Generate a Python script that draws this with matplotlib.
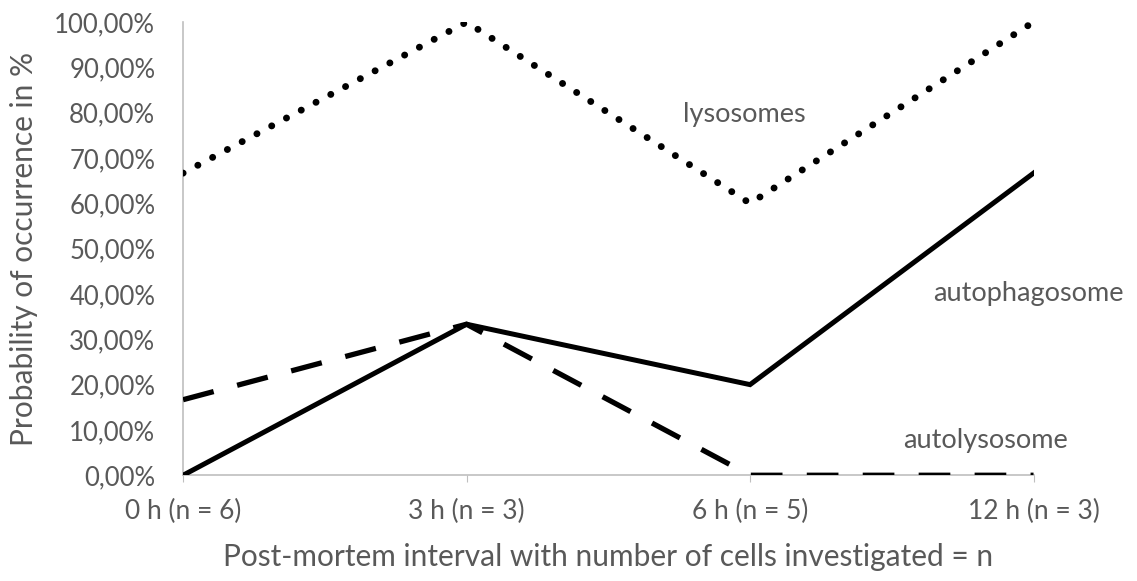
import matplotlib
matplotlib.use("Agg")
import matplotlib.pyplot as plt
from matplotlib.ticker import FuncFormatter, MultipleLocator

categories = ["0 h (n = 6)", "3 h (n = 3)", "6 h (n = 5)", "12 h (n = 3)"]
lysosomes = [66.67, 100.0, 60.0, 100.0]
autophagosome = [0.0, 33.33, 20.0, 66.67]
autolysosome = [16.67, 33.33, 0.0, 0.0]

plt.rcParams["font.family"] = ["Lato", "DejaVu Sans"]
text_grey = "#595959"
axis_grey = "#bfbfbf"

fig = plt.figure(figsize=(11.37, 5.81), dpi=100)
ax = fig.add_axes([0.161, 0.182, 0.748, 0.780])

x = list(range(len(categories)))
ax.plot(x, lysosomes, color="black", lw=5, linestyle=(0, (0.01, 2.4)),
        dash_capstyle="round", solid_capstyle="round", zorder=3)
ax.plot(x, autophagosome, color="black", lw=3.6, solid_joinstyle="miter", zorder=3)
ax.plot(x, autolysosome, color="black", lw=3.8, linestyle=(0, (6, 4.6)),
        dash_capstyle="butt", zorder=3)

ax.set_xlim(0, 3)
ax.set_ylim(0, 100)
ax.set_xticks(x)
ax.set_xticklabels(categories)
ax.yaxis.set_major_locator(MultipleLocator(10))
ax.yaxis.set_major_formatter(FuncFormatter(lambda v, _: f"{v:.2f}".replace(".", ",") + "%"))

for side in ("top", "right"):
    ax.spines[side].set_visible(False)
for side in ("left", "bottom"):
    ax.spines[side].set_color(axis_grey)
    ax.spines[side].set_linewidth(1.2)
ax.tick_params(axis="x", colors=axis_grey, labelcolor=text_grey, labelsize=19,
               length=5, direction="out", pad=12)
ax.tick_params(axis="y", length=0, labelcolor=text_grey, labelsize=18.5, pad=20)

ax.set_xlabel("Post-mortem interval with number of cells investigated = n",
              fontsize=21.5, color=text_grey, labelpad=14)
ax.set_ylabel("Probability of occurrence in %", fontsize=21.5, color=text_grey, labelpad=12)

ax.text(1.765, 79.5, "lysosomes", fontsize=19.5, color=text_grey, ha="left", va="center")
ax.text(2.647, 40.2, "autophagosome", fontsize=19.5, color=text_grey, ha="left", va="center")
ax.text(2.541, 7.7, "autolysosome", fontsize=19.5, color=text_grey, ha="left", va="center")

fig.savefig("out.png", dpi=100)
